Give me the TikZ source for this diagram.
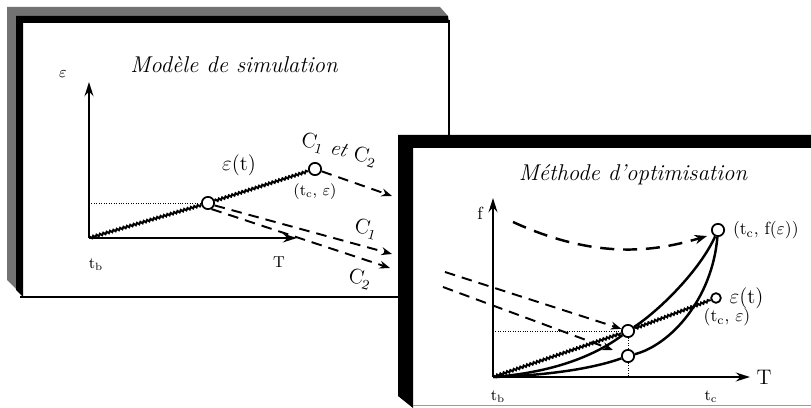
\documentclass[tikz,border=0pt]{standalone}
\usepackage{amsmath,amssymb}
\usepackage{tikz}
\usetikzlibrary{arrows.meta,decorations.pathmorphing,positioning}

\tikzset{
  ring/.style={circle, draw, line width=1pt, fill=white, inner sep=0pt, minimum size=7pt},
  smallring/.style={ring, minimum size=5.5pt},
  axisline/.style={line width=1.5pt, -{Stealth[length=8pt,width=5pt]}},
  dashline/.style={line width=1.1pt, dash pattern=on 6pt off 4pt},
  bigdash/.style={line width=1.4pt, dash pattern=on 8pt off 5pt},
  wavy/.style={line width=1.1pt, decorate, decoration={snake, segment length=2pt, amplitude=0.6pt}},
  curveline/.style={line width=1.4pt},
  guide/.style={densely dotted, thin},
  panelbevel/.style={fill=black!55},
  paneltitle/.style={font=\fontsize{13}{15}\selectfont\itshape},
  tiltlabel/.style={font=\large, rotate=-15, inner sep=0.5pt},
}

\begin{document}
\begin{tikzpicture}[x=0.02cm, y=-0.02cm]
  \useasboundingbox (0,0) rectangle (811,408);

  \fill[panelbevel] (7,7) -- (440,7) -- (448,16) -- (16,16) -- (16,289) -- (7,280) -- cycle;
  \fill (16,16) -- (448,16) -- (449,23) -- (23,23) -- (23,297) -- (16,290) -- cycle;
  \draw[line width=0.8pt] (449,20) -- (449,135);
  \draw[line width=0.8pt] (20,297) -- (398,297);

  \node[paneltitle] (simtitle) at (234,65) {Modèle de simulation};
  \coordinate (lo) at (89,238);
  \coordinate (ltop) at (89,82);
  \coordinate (lright) at (297,238);
  \draw[axisline] (lo) -- (ltop);
  \draw[axisline] (lo) -- (lright);
  \node[font=\small] (leps) at (63,74) {$\varepsilon$};
  \node[font=\small] (ltb) at (96,265) {t\textsubscript{b}};
  \node[font=\small] (lT) at (279,262) {T};

  \node[ring] (p1) at (208,203) {};
  \node[ring] (p2) at (315,169) {};
  \coordinate (ly) at (89,203);
  \draw[guide] (ly) -- (p1);
  \draw[wavy] (lo) -- (p1);
  \draw[wavy] (p1) -- (p2);
  \node[font=\large] (leps2) at (239,165) {$\varepsilon$(t)};
  \node[tiltlabel] (lboth) at (339,150) {C\textsubscript{1} \textit{et} C\textsubscript{2}};
  \node[font=\small, inner sep=1pt] (lpt) at (315,192) {(t\textsubscript{c}, $\varepsilon$)};

  \coordinate (la) at (392,196);
  \coordinate (lc1) at (392,254);
  \coordinate (lc2) at (390,268);
  \draw[dashline, -{Stealth[length=6pt]}] (p2) -- (la);
  \draw[dashline, -{Stealth[length=6pt]}] (p1.-20) -- (lc1);
  \draw[dashline, -{Stealth[length=6pt]}] (p1.-60) -- (lc2);
  \node[tiltlabel] (lC1) at (366,229) {C\textsubscript{1}};
  \node[tiltlabel] (lC2) at (360,279) {C\textsubscript{2}};

  \fill (398,135) -- (811,135) -- (811,148) -- (413,148) -- (413,408) -- (398,396) -- cycle;
  \draw[black!40, thin] (413,405) -- (811,405);

  \node[paneltitle] (opttitle) at (633,175) {Méthode d'optimisation};
  \coordinate (ro) at (493,377);
  \coordinate (rtop) at (493,198);
  \coordinate (rright) at (750,377);
  \draw[axisline] (ro) -- (rtop);
  \draw[axisline] (ro) -- (rright);
  \node (rf) at (480,213) {f};
  \node[font=\large] (rT) at (764,377) {T};
  \node[font=\small] (rtb) at (498,397) {t\textsubscript{b}};
  \node[font=\small] (rtc) at (711,397) {t\textsubscript{c}};

  \node[ring] (q1) at (628,331) {};
  \node[ring] (q2) at (628,356) {};
  \node[ring] (q3) at (718,230) {};
  \node[smallring] (q4) at (716,298) {};
  \coordinate (ry) at (493,331);
  \coordinate (rx) at (628,377);
  \draw[guide] (ry) -- (q1);
  \draw[guide] (q1) -- (q2);
  \draw[guide] (q2) -- (rx);

  \draw[curveline] (ro) .. controls (560,372) and (600,352) .. (q1);
  \draw[curveline] (q1) .. controls (660,310) and (700,270) .. (q3);
  \draw[curveline] (ro) .. controls (560,375) and (600,366) .. (q2);
  \draw[curveline] (q2) .. controls (670,345) and (712,300) .. (q3);
  \draw[wavy] (ro) -- (q1);
  \draw[wavy] (q1) -- (q4);

  \coordinate (rs) at (513,222);
  \coordinate (re) at (707,236);
  \draw[bigdash, -{Stealth[length=7pt]}] (rs) .. controls (600,262) and (660,250) .. (re);
  \coordinate (rc1) at (445,272);
  \coordinate (rc2) at (443,287);
  \coordinate (rc2e) at (613,350);
  \draw[dashline, -{Stealth[length=6pt]}] (rc1) -- (q1);
  \draw[dashline, -{Stealth[length=6pt]}] (rc2) -- (rc2e);

  \node[right=1pt of q3] (lq3) {(t\textsubscript{c}, f($\varepsilon$))};
  \node[right=1pt of q4, font=\large] (lq4) {$\varepsilon$(t)};
  \node[inner sep=1pt] (lq4b) at (727,317) {(t\textsubscript{c}, $\varepsilon$)};
\end{tikzpicture}
\end{document}
